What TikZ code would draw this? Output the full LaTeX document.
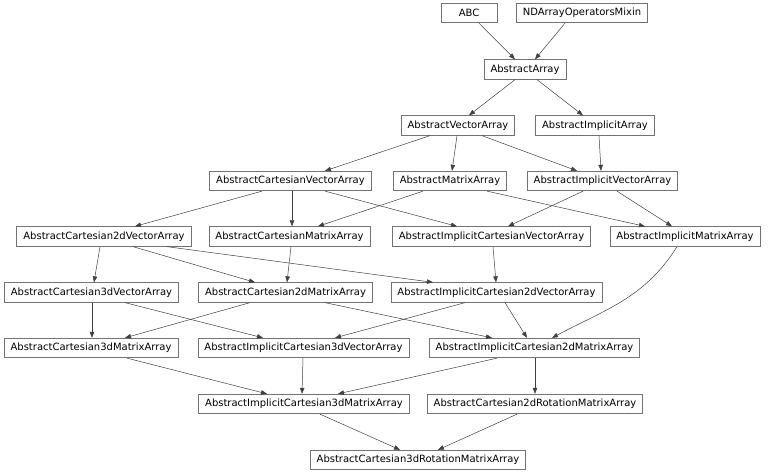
\documentclass[tikz,border=0pt]{standalone}
\usepackage{fontspec}
\setmainfont{DejaVu Sans}
\usetikzlibrary{arrows.meta, positioning}
\tikzset{
  box/.style={rectangle, draw=black!55, line width=0.8pt, fill=white,
              inner xsep=6.5pt, inner ysep=0pt, minimum height=19.5pt,
              minimum width=56pt, font=\fontsize{10}{12}\selectfont},
  edge/.style={draw=black!75, line width=0.5pt,
               -{Triangle[length=6pt, width=4.5pt]}},
}
\begin{document}
\begin{tikzpicture}[x=1pt, y=1pt]
    \useasboundingbox (0,0) rectangle (768,473);
    %% Rows 1--3
    \node[box] (abc)  at (469,460)   {ABC};
    \node[box] (nd)   at (582,460)   {NDArrayOperatorsMixin};
    \node[box] (aa)   at (525,403.5) {AbstractArray};
    \node[box] (ava)  at (458,347.5) {AbstractVectorArray};
    \node[box] (aia)  at (595,347.5) {AbstractImplicitArray};
    %% Rows 4--5
    \node[box] (acva)  at (290.5,292) {AbstractCartesianVectorArray};
    \node[box] (ama)   at (450,292)   {AbstractMatrixArray};
    \node[box] (aiva)  at (602.5,292) {AbstractImplicitVectorArray};
    \node[box] (ac2va) at (104,236.5)   {AbstractCartesian2dVectorArray};
    \node[box] (acma)  at (289.5,236.5) {AbstractCartesianMatrixArray};
    \node[box] (aicva) at (491.5,236.5) {AbstractImplicitCartesianVectorArray};
    \node[box] (aima)  at (685,236.5)   {AbstractImplicitMatrixArray};
    %% Rows 6--7
    \node[box] (ac3va)  at (91.5,180.5)  {AbstractCartesian3dVectorArray};
    \node[box] (ac2ma)  at (285.5,180.5) {AbstractCartesian2dMatrixArray};
    \node[box] (aic2va) at (496.5,180.5) {AbstractImplicitCartesian2dVectorArray};
    \node[box] (ac3ma)  at (91,125)    {AbstractCartesian3dMatrixArray};
    \node[box] (aic3va) at (303.5,125) {AbstractImplicitCartesian3dVectorArray};
    \node[box] (aic2ma) at (534.5,125) {AbstractImplicitCartesian2dMatrixArray};
    %% Rows 8--9
    \node[box] (aic3ma) at (304,69) {AbstractImplicitCartesian3dMatrixArray};
    \node[box] (ac2rma) at (535,69) {AbstractCartesian2dRotationMatrixArray};
    \node[box] (ac3rma) at (418,13) {AbstractCartesian3dRotationMatrixArray};
    %% Inheritance edges (parent/shift/child/shift)
    \foreach \p/\sp/\c/\sc in {abc/10/aa/-10, nd/-17/aa/10,
        aa/-10/ava/11, aa/12/aia/-12,
        ava/-28/acva/34.5, ava/-1/ama/2, ava/24/aiva/-25.5, aia/4/aiva/-1.5,
        acva/-28.5/ac2va/31, acva/1.5/acma/2.5, acva/34.5/aicva/-34.5,
        ama/-27/acma/28.5, ama/37/aima/-40,
        aiva/-19.5/aicva/16.5, aiva/14.5/aima/-13,
        ac2va/-4/ac3va/2.5, ac2va/29/ac2ma/-30.5, ac2va/63/aic2va/-63.5,
        acma/1.5/ac2ma/1.5, aicva/1.5/aic2va/-0.5,
        ac3va/0.5/ac3ma/1, ac3va/33.5/aic3va/-40.5,
        ac2ma/-35.5/ac3ma/34, ac2ma/39.5/aic2ma/-42.5,
        aic2va/-31.5/aic3va/31.5, aic2va/8.5/aic2ma/-7.5,
        ac3ma/36/aic3ma/-37, aic3va/-0.5/aic3ma/-2,
        aic2ma/-37.5/aic3ma/34, aic2ma/0.5/ac2rma/0,
        aic3ma/16/ac3rma/-18, ac2rma/-18/ac3rma/20}{
      \draw[edge] ([xshift=\sp pt]\p.south) -- ([xshift=\sc pt]\c.north);
    }
    %% Curved edge
    \draw[edge] ([xshift=-8pt]aima.south) to[out=-122, in=28]
      ([xshift=17.5pt]aic2ma.north);
\end{tikzpicture}
\end{document}
